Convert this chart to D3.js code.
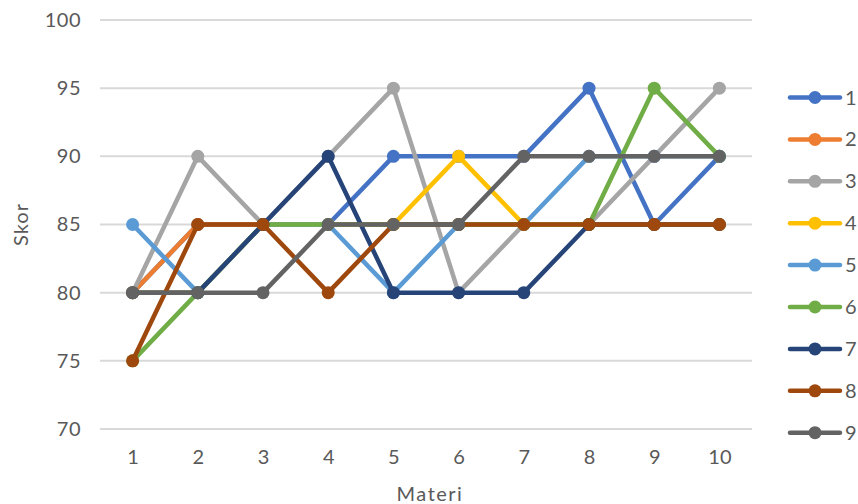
<!DOCTYPE html>
<html>
<head>
<meta charset="utf-8">
<script src="https://cdn.jsdelivr.net/npm/d3@7"></script>
<style>
  html, body { margin: 0; padding: 0; background: #fff; }
  svg { display: block; font-family: "Lato", "Open Sans", sans-serif; }
</style>
</head>
<body>
<svg id="chart" width="858" height="504"></svg>
<script>
// Scores per lesson (Materi 1..10) for each of the nine series
const materi = [1, 2, 3, 4, 5, 6, 7, 8, 9, 10];
const seriesNames = ["1", "2", "3", "4", "5", "6", "7", "8", "9"];
const s1 = [80, 85, 85, 85, 90, 90, 90, 95, 85, 90];
const s2 = [80, 85, 85, 85, 85, 85, 85, 85, 85, 85];
const s3 = [80, 90, 85, 90, 95, 80, 85, 85, 90, 95];
const s4 = [80, 80, 85, 85, 85, 90, 85, 85, 85, 85];
const s5 = [85, 80, 85, 85, 80, 85, 85, 90, 90, 90];
const s6 = [75, 80, 85, 85, 85, 85, 85, 85, 95, 90];
const s7 = [80, 80, 85, 90, 80, 80, 80, 85, 85, 85];
const s8 = [75, 85, 85, 80, 85, 85, 85, 85, 85, 85];
const s9 = [80, 80, 80, 85, 85, 85, 90, 90, 90, 90];
const yTicks = [70, 75, 80, 85, 90, 95, 100];
const colors = ["#4472C4", "#ED7D31", "#A5A5A5", "#FFC000", "#5B9BD5", "#70AD47", "#264478", "#9E480E", "#636363"];

const allSeries = [s1, s2, s3, s4, s5, s6, s7, s8, s9].map((vals, i) => ({
  name: seriesNames[i],
  color: colors[i],
  points: materi.map((m, j) => ({ m, v: vals[j] }))
}));

const svg = d3.select("#chart");
const plot = { left: 100, right: 752, top: 20, bottom: 429 };
const textColor = "#595959";
const fontSize = "20px";

const x = d3.scalePoint().domain(materi).range([plot.left, plot.right]).padding(0.5);
const y = d3.scaleLinear().domain([70, 100]).range([plot.bottom, plot.top]);

// Horizontal gridlines
svg.append("g")
  .selectAll("line")
  .data(yTicks)
  .join("line")
  .attr("x1", plot.left)
  .attr("x2", plot.right)
  .attr("y1", d => y(d))
  .attr("y2", d => y(d))
  .attr("stroke", "#d9d9d9")
  .attr("stroke-width", 2);

// Y axis labels
const yAxis = svg.append("g")
  .attr("transform", `translate(${plot.left},0)`)
  .call(d3.axisLeft(y).tickValues(yTicks).tickSize(0).tickPadding(19));
yAxis.select(".domain").remove();
yAxis.selectAll("text")
  .attr("fill", textColor)
  .style("font-size", fontSize)
  .style("font-family", "Lato, 'Open Sans', sans-serif")
  .style("letter-spacing", "0.5px");

// X axis labels
const xAxis = svg.append("g")
  .attr("transform", `translate(0,${plot.bottom})`)
  .call(d3.axisBottom(x).tickSize(0).tickPadding(21));
xAxis.select(".domain").remove();
xAxis.selectAll("text")
  .attr("fill", textColor)
  .style("font-size", fontSize)
  .style("font-family", "Lato, 'Open Sans', sans-serif");

// Axis titles
svg.append("text")
  .attr("x", (plot.left + plot.right) / 2 + 4)
  .attr("y", 501)
  .attr("text-anchor", "middle")
  .attr("fill", textColor)
  .style("font-size", fontSize)
  .style("letter-spacing", "1.5px")
  .text("Materi");

svg.append("text")
  .attr("transform", `translate(28,${y(85)}) rotate(-90)`)
  .attr("text-anchor", "middle")
  .attr("fill", textColor)
  .style("font-size", fontSize)
  .style("letter-spacing", "1px")
  .text("Skor");

// Lines and markers
const line = d3.line().x(d => x(d.m)).y(d => y(d.v));
const seriesG = svg.append("g")
  .selectAll("g")
  .data(allSeries)
  .join("g");

seriesG.append("path")
  .attr("d", d => line(d.points))
  .attr("fill", "none")
  .attr("stroke", d => d.color)
  .attr("stroke-width", 4.5)
  .attr("stroke-linejoin", "round")
  .attr("stroke-linecap", "round");

seriesG.selectAll("circle")
  .data(d => d.points.map(p => ({ ...p, color: d.color })))
  .join("circle")
  .attr("cx", d => x(d.m))
  .attr("cy", d => y(d.v))
  .attr("r", 6.5)
  .attr("fill", d => d.color);

// Legend
const legend = svg.append("g")
  .selectAll("g")
  .data(allSeries)
  .join("g")
  .attr("transform", (d, i) => `translate(0,${97.5 + i * 41.9})`);

legend.append("line")
  .attr("x1", 790)
  .attr("x2", 840)
  .attr("stroke", d => d.color)
  .attr("stroke-width", 4.5)
  .attr("stroke-linecap", "round");

legend.append("circle")
  .attr("cx", 815)
  .attr("r", 6.5)
  .attr("fill", d => d.color);

legend.append("text")
  .attr("x", 845)
  .attr("dy", "0.35em")
  .attr("fill", textColor)
  .style("font-size", fontSize)
  .text(d => d.name);
</script>
</body>
</html>
